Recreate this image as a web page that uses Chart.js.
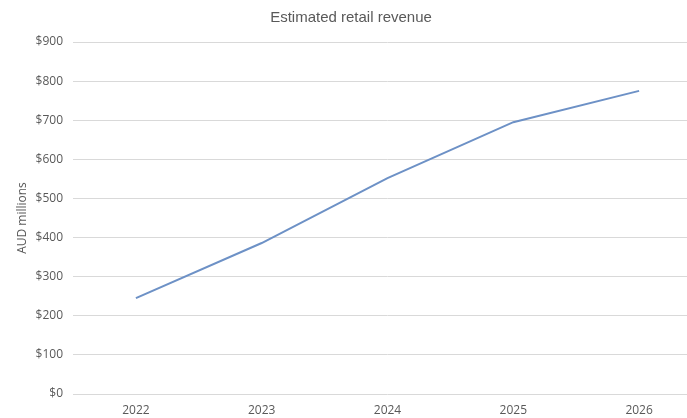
<!DOCTYPE html>
<html>
<head>
<meta charset="utf-8">
<script src="https://cdn.jsdelivr.net/npm/chart.js@4/dist/chart.umd.min.js"></script>
<style>
html,body{margin:0;padding:0;background:#fff;overflow:hidden;width:687px;height:418px;}
#wrap{position:absolute;left:0;top:0;width:702px;height:418px;}
</style>
</head>
<body>
<div id="wrap"><canvas id="c" width="702" height="418"></canvas></div>
<script>
const categories = ['2022', '2023', '2024', '2025', '2026'];
const revenue = [245, 386, 552, 695, 775];
const yTicks = [0, 100, 200, 300, 400, 500, 600, 700, 800, 900];

const ctx = document.getElementById('c').getContext('2d');
new Chart(ctx, {
  type: 'line',
  data: {
    labels: categories,
    datasets: [{
      label: 'Estimated retail revenue',
      data: revenue,
      borderColor: '#6d91c6',
      borderWidth: 2,
      pointRadius: 0,
      tension: 0,
      fill: false
    }]
  },
  options: {
    responsive: false,
    animation: false,
    layout: { padding: { left: 0, right: 0, top: 0, bottom: 0 } },
    plugins: {
      legend: { display: false },
      tooltip: { enabled: false },
      title: {
        display: true,
        text: 'Estimated retail revenue',
        color: '#595959',
        font: { family: 'Liberation Sans, Arial, sans-serif', size: 15, weight: 'normal' },
        padding: { top: 9, bottom: 15 },
        align: 'center'
      }
    },
    scales: {
      x: {
        offset: true,
        grid: { display: false, drawTicks: false },
        border: { display: false },
        ticks: { color: '#595959', font: { family: 'Open Sans, sans-serif', size: 12 }, padding: 9 },
        afterFit: (s) => { s.height = 24; }
      },
      y: {
        min: 0,
        max: 900,
        afterBuildTicks: (s) => { s.ticks = yTicks.map(v => ({ value: v })); },
        grid: { color: '#d9d9d9', lineWidth: 1, drawTicks: false },
        border: { display: false },
        ticks: {
          color: '#595959',
          font: { family: 'Open Sans, sans-serif', size: 12 },
          padding: 10,
          callback: (v) => '$' + v
        },
        title: {
          display: true,
          text: 'AUD millions',
          color: '#595959',
          font: { family: 'Open Sans, sans-serif', size: 12 },
          padding: { top: 15, bottom: 0 }
        },
        afterFit: (s) => { s.width = 73; }
      }
    }
  }
});
</script>
</body>
</html>
